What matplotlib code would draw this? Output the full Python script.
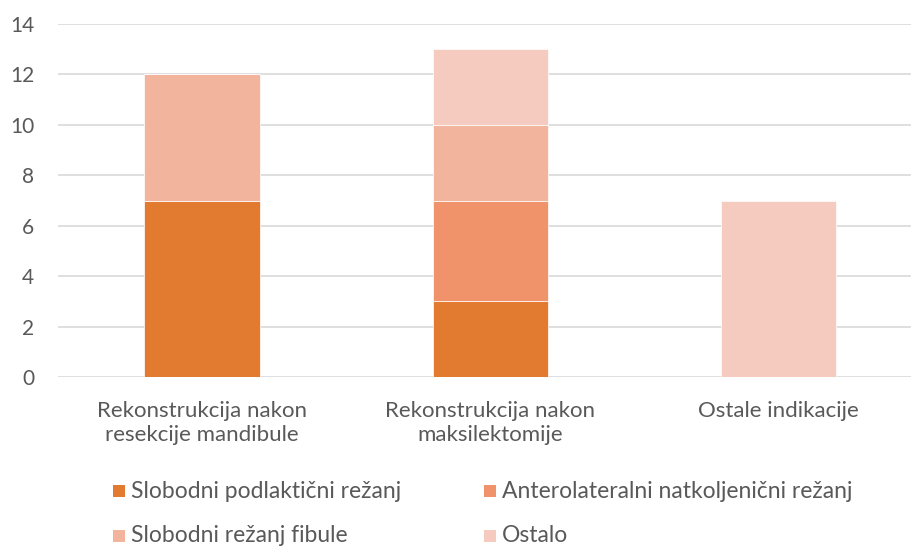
import matplotlib
matplotlib.use('Agg')
import matplotlib.pyplot as plt
import numpy as np
from matplotlib.patches import Rectangle

categories = ['Rekonstrukcija nakon\nresekcije mandibule',
              'Rekonstrukcija nakon\nmaksilektomije',
              'Ostale indikacije']
series_names = ['Slobodni podlaktični režanj',
                'Anterolateralni natkoljenični režanj',
                'Slobodni režanj fibule',
                'Ostalo']
podlakticni = [7, 3, 0]
anterolateralni = [0, 4, 0]
fibula = [5, 3, 0]
ostalo = [0, 3, 7]
yticks = [0, 2, 4, 6, 8, 10, 12, 14]

colors = ['#E27A2F', '#F0936A', '#F3B49D', '#F6CBBF']
text_color = '#595959'

plt.rcParams['font.family'] = ['Lato', 'DejaVu Sans']

W, H = 912, 547
fig = plt.figure(figsize=(W / 100, H / 100), dpi=100)
ax = fig.add_axes([58 / W, 1 - 377 / H, 865 / W, 353 / H])

x = np.arange(len(categories))
bottom = np.zeros(len(categories))
for name, vals, c in zip(series_names, [podlakticni, anterolateralni, fibula, ostalo], colors):
    ax.bar(x, vals, width=0.4, bottom=bottom, color=c, edgecolor='white', linewidth=0.5, zorder=3)
    bottom += np.array(vals)

ax.set_xlim(-0.5, 2.5)
ax.set_ylim(0, 14)
ax.set_yticks(yticks)
ax.yaxis.grid(True, color='#D9D9D9', linewidth=1.2, zorder=0)
for s in ax.spines.values():
    s.set_visible(False)
ax.tick_params(axis='both', length=0, labelcolor=text_color)
ax.tick_params(axis='y', pad=17, labelsize=15)
ax.set_xticks(x)
ax.set_xticklabels(categories, linespacing=1.3, fontsize=16)
ax.tick_params(axis='x', pad=17)

# legend, laid out in two rows like the original
leg_cols = [113, 484]
leg_rows = [491, 536]
for i, (name, c) in enumerate(zip(series_names, colors)):
    lx = leg_cols[i % 2]
    ly = leg_rows[i // 2]
    fig.patches.append(Rectangle((lx / W, 1 - (ly + 6) / H), 12 / W, 12 / H,
                                 transform=fig.transFigure, facecolor=c, edgecolor='none'))
    fig.text((lx + 18) / W, 1 - ly / H, name, fontsize=16.5, color=text_color,
             ha='left', va='center')

fig.savefig('out.png', dpi=100)
